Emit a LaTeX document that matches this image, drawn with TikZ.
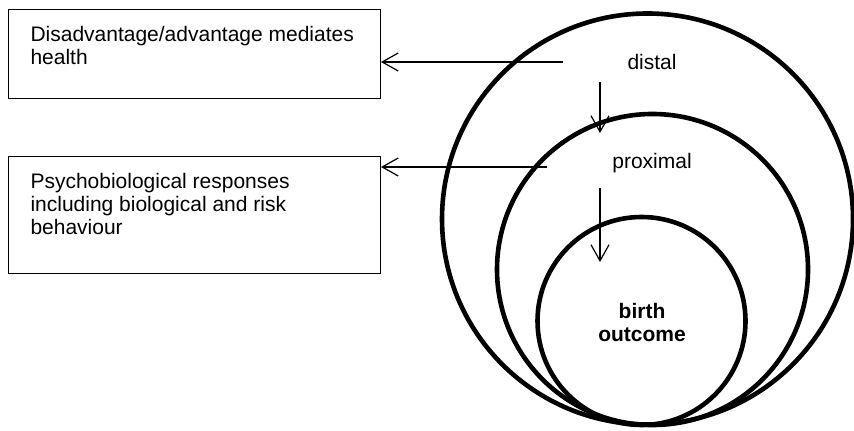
\documentclass[tikz,border=0pt]{standalone}
\usepackage{fontspec}
\setmainfont{Liberation Sans}
\usepackage{tikz}
\usetikzlibrary{arrows.meta}

\begin{document}
\begin{tikzpicture}[
        x=0.5pt, y=-0.5pt,
        factor/.style={
            % The shape
            rectangle,
            % The border
            line width = 0.5pt,
            draw = black!100,
            % The color
            color = black,
            % Font
            font = \fontsize{10.5}{11.5}\selectfont,
            % Placement
            anchor = north west,
            inner xsep = 11pt,
            inner ysep = 8.3pt
        },
        ring/.style={
            % The shape
            circle,
            % The border
            line width = 2.3pt,
            draw = black!100,
            inner sep = 0pt
        },
        level/.style={
            % The color
            color = black,
            % Font
            font = \fontsize{10.5}{11.5}\selectfont,
            align = center
        },
        link/.style={
            % The line
            line width = 0.6pt,
            draw = black!100,
            % The tip
            -{Straight Barb[length=8pt,width=9pt]}
        }
    ]
        \useasboundingbox (0,0) rectangle (854,431);

        \node (advantageBox) [factor] at (8,9) {\parbox[t][27.9pt][t]{164pt}{Disadvantage/advantage mediates\\
        health}};
        \node (responseBox) [factor] at (8,156) {\parbox[t][41.9pt][t]{164pt}{Psychobiological responses\\
        including biological and risk\\ behaviour}};

        \node (distalRing) [ring,minimum size=205.5pt] at (647.5,219) {};
        \node (proximalRing) [ring,minimum size=155.5pt] at (652.5,269.5) {};
        \node (outcomeRing) [ring,minimum size=104pt] at (641.5,321) {};

        \node (distal) [level] at (652,62) {distal};
        \node (proximal) [level] at (652,163) {proximal};
        \node (birthOutcome) [level,font=\fontsize{10.5}{11.5}\selectfont\bfseries] at (642,322.5) {birth\\ outcome};

        \coordinate (distalTail) at (563,62);
        \path (distalTail) edge[link] (distalTail -| advantageBox.east);
        \coordinate (proximalTail) at (547,167);
        \path (proximalTail) edge[link] (proximalTail -| responseBox.east);

        \coordinate (distalDrop) at (600,82);
        \coordinate (distalLand) at (600,133);
        \path (distalDrop) edge[link] (distalLand);
        \coordinate (proximalDrop) at (600,188);
        \coordinate (proximalLand) at (600,262);
        \path (proximalDrop) edge[link] (proximalLand);

    \end{tikzpicture}
\end{document}
